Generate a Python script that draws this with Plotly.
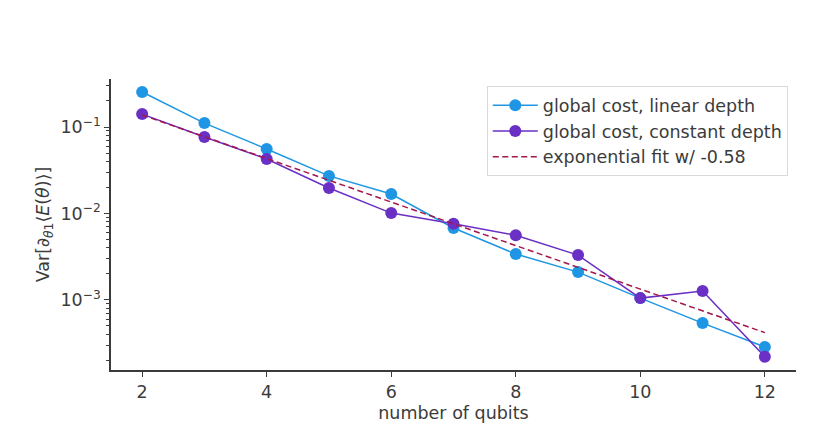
import plotly.graph_objects as go

# data
qubits = [2, 3, 4, 5, 6, 7, 8, 9, 10, 11, 12]
var_linear = [0.254, 0.111, 0.0557, 0.0272, 0.0168, 0.0068, 0.0034, 0.0021, 0.00105, 0.00054, 0.000286]
var_constant = [0.141, 0.0766, 0.0427, 0.0197, 0.0101, 0.0076, 0.0056, 0.0033, 0.00105, 0.00127, 0.00022]
fit_x = [2, 12]
fit_y = [0.1377, 0.000419]

ytick_vals = [1e-3, 1e-2, 1e-1]
ytick_text = ["10<sup>−3</sup>", "10<sup>−2</sup>", "10<sup>−1</sup>"]
ytick_minor = [m * 10.0 ** e for e in (-4, -3, -2, -1) for m in range(2, 10)]

BLUE = "#1e96e4"
PURPLE = "#6a2fc4"
FIT = "#a3174a"
INK = "#3b3b3b"

fig = go.Figure()

fig.add_trace(go.Scatter(
    x=qubits, y=var_linear, mode="lines+markers",
    name="global cost, linear depth",
    line=dict(color=BLUE, width=1.5),
    marker=dict(color=BLUE, size=12),
))
fig.add_trace(go.Scatter(
    x=qubits, y=var_constant, mode="lines+markers",
    name="global cost, constant depth",
    line=dict(color=PURPLE, width=1.5),
    marker=dict(color=PURPLE, size=12),
))
fig.add_trace(go.Scatter(
    x=fit_x, y=fit_y, mode="lines",
    name="exponential fit w/ -0.58",
    line=dict(color=FIT, width=1.5, dash="6px,3.5px"),
))

# the page puts the figure 8px in from the top-left corner
fig.update_layout(
    width=832, height=436,
    margin=dict(l=103, r=44, t=71, b=74),
    paper_bgcolor="white", plot_bgcolor="white",
    font=dict(family="DejaVu Sans", size=17, color=INK),
    showlegend=True,
    legend=dict(
        x=0.988, y=0.975, xanchor="right", yanchor="top",
        bgcolor="white", bordercolor="#d9d9d9", borderwidth=1,
        font=dict(size=17.5, color=INK),
        itemwidth=45,
        tracegroupgap=0,
    ),
    xaxis=dict(
        range=[1.5, 12.5],
        tickvals=[2, 4, 6, 8, 10, 12],
        ticks="outside", ticklen=5, tickwidth=1.2, tickcolor=INK,
        showline=True, linecolor=INK, linewidth=1.5,
        showgrid=False, zeroline=False, automargin=False,
        tickfont=dict(size=17.5),
        title=dict(text="number of qubits", standoff=6, font=dict(size=17.5)),
    ),
    yaxis=dict(
        type="log",
        range=[-3.81, -0.445],
        tickvals=ytick_vals, ticktext=ytick_text,
        ticks="outside", ticklen=5, tickwidth=1.2, tickcolor=INK,
        minor=dict(tickvals=ytick_minor, ticks="outside", ticklen=3, tickcolor=INK, showgrid=False),
        showline=True, linecolor=INK, linewidth=1.5,
        showgrid=False, zeroline=False, automargin=False,
        tickfont=dict(size=17.5),
        title=dict(text="Var[∂<sub><i>θ</i>1</sub>⟨<i>E</i>(<i>θ</i>)⟩]", standoff=6, font=dict(size=17.5)),
    ),
)

fig.write_html("out.html")
